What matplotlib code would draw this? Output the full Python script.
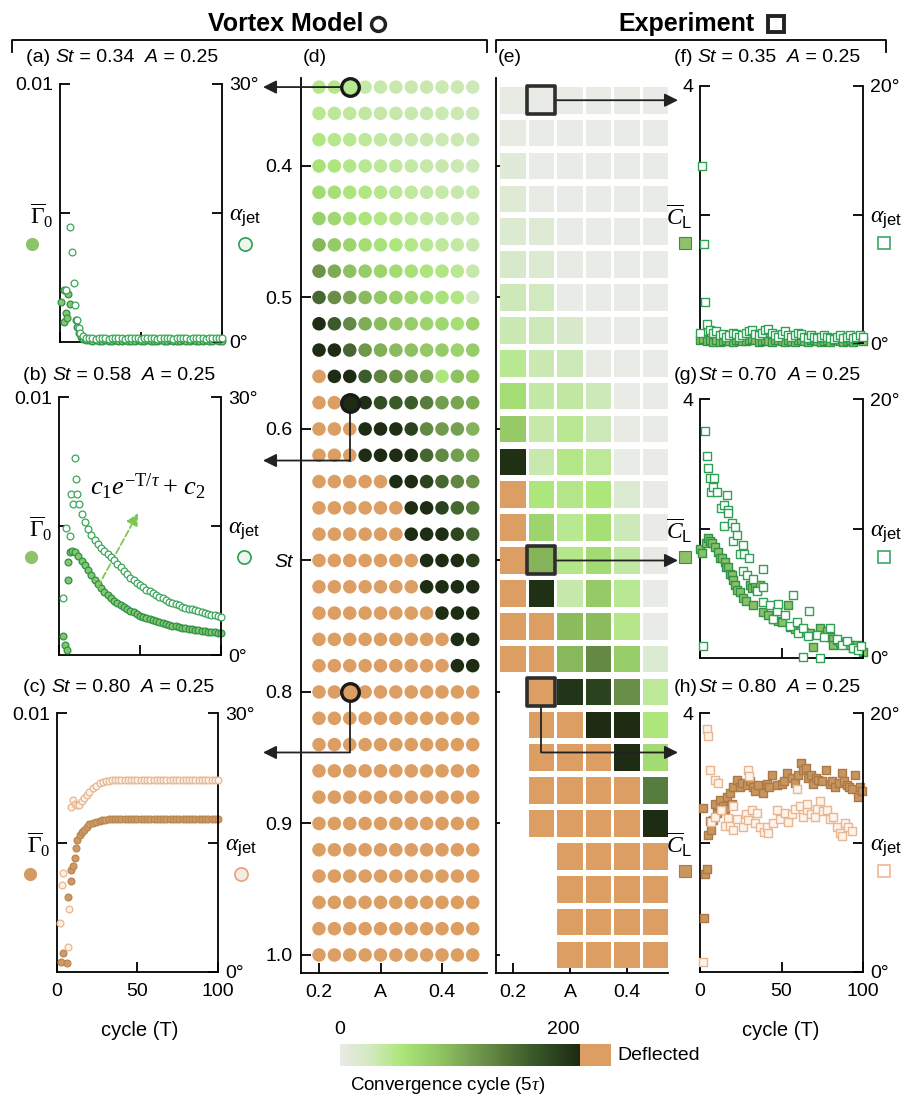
import numpy as np
import matplotlib
matplotlib.use('Agg')
from matplotlib import pyplot as plt
from matplotlib.colors import LinearSegmentedColormap, Normalize
from matplotlib.patches import Rectangle
from matplotlib.lines import Line2D
from matplotlib.cm import ScalarMappable

plt.rcParams['font.family'] = ['Liberation Sans', 'DejaVu Sans']
plt.rcParams['mathtext.fontset'] = 'custom'
plt.rcParams['mathtext.rm'] = 'Liberation Serif'
plt.rcParams['mathtext.it'] = 'Liberation Serif:italic'
plt.rcParams['mathtext.bf'] = 'Liberation Serif:bold'
plt.rcParams['mathtext.sf'] = 'Liberation Sans'
plt.rcParams['font.size'] = 14

D = -1      # deflected
N = np.nan  # no measurement

#Mapa del modelo de vortices (d)
st_model = [0.34, 0.36, 0.38, 0.40, 0.42, 0.44, 0.46, 0.48, 0.50, 0.52, 0.54, 0.56,
            0.58, 0.60, 0.62, 0.64, 0.66, 0.68, 0.70, 0.72, 0.74, 0.76, 0.78, 0.80,
            0.82, 0.84, 0.86, 0.88, 0.90, 0.92, 0.94, 0.96, 0.98, 1.00]
a_model = [0.200, 0.225, 0.250, 0.275, 0.300, 0.325, 0.350, 0.375, 0.400, 0.425, 0.450]
conv_model = [
    [45, 45, 43, 33, 33, 32, 31, 31, 30, 30, 28],
    [42, 40, 38, 36, 34, 33, 32, 31, 30, 29, 28],
    [48, 44, 42, 40, 36, 34, 32, 31, 30, 29, 28],
    [55, 50, 46, 42, 40, 37, 35, 33, 31, 30, 28],
    [62, 58, 52, 48, 44, 40, 37, 35, 33, 31, 29],
    [72, 65, 58, 52, 48, 44, 40, 37, 35, 32, 30],
    [92, 78, 68, 60, 55, 50, 46, 42, 38, 35, 31],
    [118, 100, 85, 75, 68, 62, 57, 52, 48, 42, 33],
    [150, 122, 105, 90, 80, 72, 66, 60, 55, 48, 25],
    [198, 160, 125, 100, 88, 80, 75, 70, 66, 58, 70],
    [198, 198, 150, 115, 98, 90, 85, 80, 76, 70, 75],
    [D, 198, 198, 158, 130, 118, 110, 100, 50, 85, 80],
    [D, D, 198, 196, 170, 160, 158, 135, 110, 105, 100],
    [D, D, D, 198, 198, 196, 180, 125, 112, 108, 95],
    [D, D, D, 198, 198, 198, 196, 150, 125, 110, 102],
    [D, D, D, D, D, 198, 198, 180, 150, 128, 118],
    [D, D, D, D, D, D, 198, 198, 180, 150, 135],
    [D, D, D, D, D, D, 198, 198, 198, 178, 150],
    [D, D, D, D, D, D, D, 198, 198, 198, 182],
    [D, D, D, D, D, D, D, 198, 198, 198, 198],
    [D, D, D, D, D, D, D, D, 198, 198, 198],
    [D, D, D, D, D, D, D, D, D, 198, 198],
    [D, D, D, D, D, D, D, D, D, 198, 198],
    [D, D, D, D, D, D, D, D, D, D, D],
    [D, D, D, D, D, D, D, D, D, D, D],
    [D, D, D, D, D, D, D, D, D, D, D],
    [D, D, D, D, D, D, D, D, D, D, D],
    [D, D, D, D, D, D, D, D, D, D, D],
    [D, D, D, D, D, D, D, D, D, D, D],
    [D, D, D, D, D, D, D, D, D, D, D],
    [D, D, D, D, D, D, D, D, D, D, D],
    [D, D, D, D, D, D, D, D, D, D, D],
    [D, D, D, D, D, D, D, D, D, D, D],
    [D, D, D, D, D, D, D, D, D, D, D],
]

#Mapa del experimento (e)
st_exp = [0.350, 0.375, 0.400, 0.425, 0.450, 0.475, 0.500, 0.525, 0.550, 0.575,
          0.600, 0.625, 0.650, 0.675, 0.700, 0.725, 0.750, 0.775, 0.800, 0.825,
          0.850, 0.875, 0.900, 0.925, 0.950, 0.975, 1.000]
a_exp = [0.20, 0.25, 0.30, 0.35, 0.40, 0.45]
conv_exp = [
    [2, 0, 0, 0, 0, 0],
    [3, 0, 0, 0, 0, 0],
    [10, 0, 0, 0, 0, 0],
    [12, 2, 0, 0, 0, 0],
    [15, 12, 0, 0, 0, 0],
    [18, 15, 2, 0, 0, 0],
    [28, 25, 0, 0, 0, 0],
    [30, 28, 18, 0, 0, 0],
    [42, 30, 28, 2, 0, 0],
    [60, 35, 36, 28, 0, 0],
    [78, 33, 42, 28, 2, 0],
    [195, 32, 46, 40, 0, 0],
    [D, 50, 45, 50, 15, 0],
    [D, 68, 42, 58, 28, 0],
    [D, 95, 45, 62, 36, 2],
    [D, 195, 33, 78, 42, 0],
    [D, D, 88, 88, 45, 0],
    [D, D, 92, 125, 75, 15],
    [N, D, 190, 180, 122, 40],
    [N, D, D, 198, 198, 50],
    [N, D, D, D, 198, 62],
    [N, D, D, D, D, 135],
    [N, D, D, D, D, 198],
    [N, N, D, D, D, D],
    [N, N, D, D, D, D],
    [N, N, D, D, D, D],
    [N, N, D, D, D, D],
]

#Casos resaltados (A = 0.25)
hl_a = 0.25
hl_model_st = [0.34, 0.58, 0.80]
hl_exp_st = [0.35, 0.70, 0.80]

#(a) St = 0.34, Gamma en unidades de 1e-3, alpha en grados
a_gam_pts = [(0.6, 1.55), (2.5, 2.0), (5.0, 1.86), (6.2, 1.47), (3.7, 1.12), (2.5, 0.78),
             (4.3, 0.93), (9.9, 0.85), (10.6, 0.58), (11.8, 0.35), (13.0, 0.2), (14.5, 0.12)]
a_alp_pts = [(3.7, 6.0), (6.2, 13.4), (7.5, 10.5), (8.7, 6.9), (9.3, 4.3), (10.5, 2.6),
             (11.5, 1.6), (12.5, 1.1), (14.0, 0.7)]
a_tail_cyc = list(range(16, 101, 2))
a_gam_tail = [0.08, 0.06, 0.05, 0.06, 0.05, 0.05, 0.06, 0.05, 0.05, 0.06,
              0.05, 0.05, 0.06, 0.05, 0.05, 0.05, 0.06, 0.05, 0.05, 0.06,
              0.05, 0.05, 0.05, 0.06, 0.05, 0.05, 0.06, 0.05, 0.05, 0.05,
              0.06, 0.05, 0.05, 0.06, 0.05, 0.05, 0.05, 0.06, 0.05, 0.05,
              0.06, 0.05, 0.05]
a_alp_tail = [0.5, 0.45, 0.45, 0.4, 0.45, 0.5, 0.45, 0.4, 0.45, 0.45,
              0.5, 0.45, 0.4, 0.45, 0.45, 0.5, 0.45, 0.4, 0.45, 0.45,
              0.5, 0.45, 0.4, 0.45, 0.45, 0.5, 0.45, 0.4, 0.45, 0.45,
              0.5, 0.45, 0.4, 0.45, 0.45, 0.5, 0.45, 0.4, 0.45, 0.45,
              0.5, 0.45, 0.45]

#(b) St = 0.58
b_gam_pts = [(2.7, 0.75), (3.7, 0.39), (4.7, 0.19), (5.8, 3.6), (5.8, 2.9), (7.0, 4.0)]
b_gam_cyc = list(range(8, 101, 2))
b_gam_val = [4.05, 4.0, 3.85, 3.65, 3.48, 3.3, 3.1, 2.92, 2.75, 2.6,
             2.46, 2.34, 2.22, 2.1, 2.0, 1.92, 1.85, 1.78, 1.71, 1.65,
             1.59, 1.53, 1.47, 1.43, 1.39, 1.35, 1.31, 1.27, 1.24, 1.2,
             1.17, 1.14, 1.11, 1.08, 1.06, 1.04, 1.02, 1.0, 0.98, 0.96,
             0.94, 0.92, 0.91, 0.89, 0.88, 0.86, 0.85]
b_alp_pts = [(2.7, 6.6), (4.3, 14.8), (6.8, 13.8), (7.2, 18.7), (8.4, 17.6), (9.7, 22.9),
             (10.5, 20.5), (11.3, 18.7), (12.1, 17.6)]
b_alp_cyc = list(range(14, 101, 2))
b_alp_val = [16.4, 15.5, 14.7, 14.0, 13.4, 12.9, 12.4, 12.1, 11.8, 11.4,
             11.0, 10.6, 10.2, 9.8, 9.4, 9.0, 8.7, 8.4, 8.1, 7.9,
             7.6, 7.4, 7.2, 7.0, 6.8, 6.6, 6.4, 6.2, 6.0, 5.9,
             5.8, 5.6, 5.5, 5.4, 5.3, 5.2, 5.1, 5.0, 4.9, 4.8,
             4.7, 4.6, 4.5, 4.4]

#(c) St = 0.80
c_gam_pts = [(2.3, 0.4), (3.9, 0.73), (6.0, 0.34), (7.0, 2.9), (8.7, 3.5), (8.7, 3.94),
             (10.0, 4.1), (11.2, 4.4), (11.8, 4.8), (12.4, 5.1), (14.0, 5.3), (15.5, 5.4),
             (17.0, 5.5), (18.6, 5.6), (20.0, 5.7), (22.4, 5.75), (24.0, 5.8), (26.7, 5.83),
             (28.0, 5.85), (30.0, 5.88), (32.0, 5.9)]
c_alp_pts = [(1.9, 5.7), (2.9, 10.1), (3.9, 11.5), (7.0, 2.9), (7.5, 7.3), (8.7, 19.1),
             (10.1, 19.9), (11.0, 19.5), (12.2, 19.3), (13.5, 19.4), (15.3, 19.8), (16.8, 20.2),
             (18.4, 20.5), (20.0, 20.9), (22.5, 21.3), (24.5, 21.6), (26.7, 21.9), (28.5, 22.0),
             (30.5, 22.1), (32.5, 22.15)]
c_tail_cyc = list(range(34, 101, 2))
c_gam_tail = [5.9, 5.9, 5.9, 5.9, 5.9, 5.9, 5.9, 5.9, 5.9, 5.9,
              5.9, 5.9, 5.9, 5.9, 5.9, 5.9, 5.9, 5.9, 5.9, 5.9,
              5.9, 5.9, 5.9, 5.9, 5.9, 5.9, 5.9, 5.9, 5.9, 5.9,
              5.9, 5.9, 5.9, 5.9]
c_alp_tail = [22.2, 22.2, 22.2, 22.2, 22.2, 22.2, 22.2, 22.2, 22.2, 22.2,
              22.2, 22.2, 22.2, 22.2, 22.2, 22.2, 22.2, 22.2, 22.2, 22.2,
              22.2, 22.2, 22.2, 22.2, 22.2, 22.2, 22.2, 22.2, 22.2, 22.2,
              22.2, 22.2, 22.2, 22.2]

#(f) St = 0.35 experimento
f_cl_cyc = list(range(0, 101, 2))
f_cl_val = [0.04, 0.06, 0.03, 0.05, 0.02, 0.04, 0.02, 0.03, 0.05, 0.03,
            0.02, 0.04, 0.05, 0.03, 0.03, 0.04, 0.06, 0.04, 0.02, 0.03,
            0.05, 0.03, 0.02, 0.04, 0.05, 0.03, 0.02, 0.04, 0.03, 0.02,
            0.04, 0.05, 0.03, 0.02, 0.04, 0.05, 0.03, 0.02, 0.03, 0.04,
            0.02, 0.04, 0.05, 0.03, 0.02, 0.03, 0.04, 0.02, 0.04, 0.05,
            0.03]
f_alp_pts = [(0.0, 0.8), (1.2, 13.8), (2.5, 7.7), (3.0, 3.2), (4.3, 1.5)]
f_alp_cyc = list(range(6, 101, 2))
f_alp_val = [1.0, 0.8, 0.9, 0.6, 0.7, 0.5, 0.6, 0.8, 0.7, 0.5,
             0.6, 0.8, 0.9, 1.0, 0.7, 0.6, 0.8, 1.0, 1.1, 0.8,
             0.6, 0.5, 0.7, 0.9, 0.6, 0.5, 0.6, 0.8, 0.7, 0.5,
             0.4, 0.6, 0.5, 0.4, 0.5, 0.6, 0.5, 0.4, 0.3, 0.5,
             0.6, 0.4, 0.5, 0.6, 0.4, 0.5, 0.6, 0.5]

#(g) St = 0.70 experimento
g_cl_pts = [(0.0, 1.69), (1.5, 1.62), (3.7, 1.77), (5.0, 1.85), (6.1, 1.8), (7.5, 1.78),
            (9.2, 1.72), (11.2, 1.64), (12.0, 1.55), (13.3, 1.54), (15.3, 1.49), (16.0, 1.4),
            (17.4, 1.41), (18.5, 1.3), (19.4, 1.28), (20.5, 1.2), (21.5, 1.12), (23.0, 1.05),
            (24.5, 1.02), (26.6, 0.92), (28.0, 0.88), (30.7, 1.12), (32.0, 1.08), (33.7, 1.1),
            (35.0, 1.05), (36.8, 1.12), (32.7, 0.82), (38.9, 0.71), (42.0, 0.66), (45.0, 0.61),
            (48.0, 0.57), (50.1, 0.55), (54.2, 0.82), (55.2, 0.48), (58.0, 0.45), (61.3, 0.41),
            (64.0, 0.4), (67.5, 0.38), (69.5, 0.17), (73.6, 0.46), (75.0, 0.35), (77.7, 0.41),
            (80.0, 0.33), (81.8, 0.3), (81.8, 0.2), (84.0, 0.28), (85.9, 0.25), (88.0, 0.22),
            (90.0, 0.24), (92.0, 0.2), (94.0, 0.15), (96.1, 0.2), (98.2, 0.15), (100.0, 0.1)]
g_alp_pts = [(2.0, 0.9), (3.3, 17.5), (4.1, 15.6), (5.1, 14.7), (6.1, 13.9), (6.7, 12.8),
             (8.2, 13.2), (8.6, 13.9), (10.6, 12.8), (12.7, 11.6), (14.7, 11.8), (14.9, 10.2),
             (16.4, 12.6), (17.4, 11.4), (17.4, 11.2), (19.4, 10.4), (20.0, 9.0), (21.5, 10.1),
             (22.9, 9.5), (24.5, 8.0), (26.2, 6.7), (26.6, 8.7), (27.0, 8.0), (29.0, 6.4),
             (30.0, 7.7), (32.7, 6.1), (35.0, 5.2), (38.5, 5.5), (38.5, 4.3), (38.9, 6.9),
             (43.0, 4.1), (45.0, 3.0), (47.1, 3.6), (48.1, 4.2), (52.1, 3.3), (55.0, 2.5),
             (56.9, 4.9), (59.3, 2.8), (60.0, 1.9), (63.4, 2.3), (63.4, 0.1), (66.0, 1.7),
             (67.1, 3.6), (71.6, 1.8), (73.6, 0.0), (76.0, 1.6), (79.8, 2.3), (84.0, 1.5),
             (87.0, 1.0), (90.0, 1.3), (94.1, 0.75), (97.0, 0.6), (99.0, 0.9)]

#(h) St = 0.80 experimento
h_cl_pts = [(1.6, 2.53), (2.5, 0.83), (3.1, 1.51), (4.1, 1.59), (5.1, 2.12), (6.1, 2.33),
            (6.7, 2.2), (8.2, 2.35), (9.2, 2.6), (10.2, 2.45), (12.3, 2.66), (12.3, 2.5),
            (14.3, 2.56), (15.3, 2.52), (16.4, 2.71), (18.4, 2.76), (19.4, 2.6), (20.4, 2.86),
            (22.5, 2.97), (24.5, 2.86), (26.0, 2.92), (28.6, 2.89), (30.5, 2.95), (32.7, 2.86),
            (34.0, 2.8), (35.8, 2.89), (38.9, 2.76), (40.9, 2.9), (42.5, 2.85), (44.0, 3.04),
            (47.1, 2.89), (50.1, 2.9), (51.5, 2.95), (53.2, 3.08), (56.2, 2.99), (58.0, 2.92),
            (60.3, 3.04), (61.9, 3.23), (63.4, 3.12), (65.0, 3.15), (66.5, 3.0), (68.0, 3.05),
            (69.5, 2.9), (71.0, 3.0), (72.6, 2.97), (75.0, 2.95), (77.3, 3.12), (79.8, 2.9),
            (81.0, 2.95), (82.8, 2.86), (85.0, 2.92), (86.9, 3.07), (88.5, 2.95), (89.9, 2.89),
            (91.5, 2.85), (93.0, 2.82), (95.1, 3.04), (97.1, 2.71), (98.0, 2.85), (99.2, 2.8)]
h_alp_pts = [(2.0, 0.8), (4.1, 18.8), (5.1, 18.2), (6.1, 15.6), (6.7, 11.6), (9.2, 14.8),
             (9.2, 12.0), (11.2, 14.6), (13.0, 12.5), (15.3, 11.3), (17.4, 11.9), (18.4, 11.3),
             (20.4, 12.8), (20.4, 11.0), (23.0, 11.8), (26.6, 11.2), (28.0, 12.2), (29.7, 11.7),
             (29.7, 15.6), (30.3, 15.1), (32.0, 12.5), (33.7, 11.5), (34.8, 12.3), (37.0, 11.2),
             (39.0, 10.8), (40.9, 11.2), (42.0, 10.7), (45.0, 11.5), (47.1, 12.5), (49.0, 11.8),
             (52.1, 12.3), (54.0, 11.6), (56.2, 12.2), (58.0, 12.6), (59.3, 14.1), (61.3, 12.8),
             (63.0, 12.0), (65.4, 12.5), (65.4, 13.0), (68.0, 12.2), (70.5, 12.0), (72.0, 12.6),
             (73.6, 13.2), (75.5, 12.4), (77.7, 12.5), (79.5, 11.8), (81.8, 12.0), (84.0, 11.2),
             (85.9, 10.7), (86.9, 10.5), (89.0, 11.5), (91.0, 11.2), (93.0, 10.9)]


ORANGE = '#dc9e63'
cmap = LinearSegmentedColormap.from_list('conv', [(0, '#e9ebe6'), (0.12, '#d3e9c2'), (0.25, '#ade77c'),
                                                  (0.4, '#93c865'), (0.6, '#6a9048'), (0.8, '#3b5a2a'),
                                                  (1.0, '#1c2a12')])
cmap.set_under(ORANGE)
norm = Normalize(0, 200)

GREEN = dict(fill='#86c46e', edge='#2c9346', oedge='#3aa65a', oface='white',
             lfill='#8dc46a', ledge='#2aa050', lface='#eef6ee')
ORNG = dict(fill='#cf9a63', edge='#b98552', oedge='#e8b690', oface='#fbf1e8',
            lfill='#d49a62', ledge='#e8a070', lface='#f2ece6')

W, H = 903, 1096
fig = plt.figure(figsize=(W / 100, H / 100), dpi=100)


def rect(x0, y0, x1, y1):
    return [x0 / W, 1 - y1 / H, (x1 - x0) / W, (y1 - y0) / H]


def label(x, y, parts, size=14):
    t = fig.text(x / W, 1 - y / H, parts[0][0], style=parts[0][1], size=size, va='center')
    for s, sty in parts[1:]:
        t = ax_any.annotate(s, xy=(1, 0), xycoords=t, va='bottom', style=sty, size=size,
                            annotation_clip=False)


GAM = r'$\overline{\Gamma}_0$'
CL = r'$\overline{C}_{\mathsf{L}}$'
AJ = r'$\alpha_{\mathsf{jet}}$'


def ts_axes(box, lmax, ltop, llab, rmax, show_x):
    ax = fig.add_axes(rect(*box))
    ax2 = ax.twinx()
    ax.set_xlim(0, 100)
    ax.set_ylim(0, lmax)
    ax2.set_ylim(0, rmax)
    for s in ['top', 'right']:
        ax.spines[s].set_visible(False)
    for s in ['top', 'left', 'bottom']:
        ax2.spines[s].set_visible(False)
    for a in (ax, ax2):
        for s in a.spines.values():
            s.set_linewidth(1.3)
        a.tick_params(direction='in', length=7, width=1.3, labelsize=14, pad=5)
    ax.set_xticks([0, 50, 100])
    ax.tick_params(axis='x', labelbottom=show_x, pad=8)
    ax.set_yticks([lmax / 2, lmax])
    ax.set_yticklabels([llab, ltop])
    ax2.set_yticks([0, rmax / 2, rmax])
    ax2.set_yticklabels(['0°', AJ, '%d°' % rmax])
    ax.get_yticklabels()[0].set_fontsize(17)
    ax2.get_yticklabels()[1].set_fontsize(17)
    return ax, ax2


def pts(p):
    p = np.array(p, dtype=float)
    return p[:, 0], p[:, 1]


def model_series(ax, ax2, gx, gy, ax_, ay, col):
    ax.scatter(gx, gy, s=24, facecolors=col['fill'], edgecolors=col['edge'], linewidths=0.9,
               clip_on=False, zorder=3)
    ax2.scatter(ax_, ay, s=24, facecolors=col['oface'], edgecolors=col['oedge'], linewidths=0.9,
                clip_on=False, zorder=3)
    ax.plot([-0.17], [0.38], transform=ax.transAxes, marker='o', ms=9.5, mfc=col['lfill'],
            mec='none', clip_on=False)
    ax2.plot([1.14], [0.38], transform=ax2.transAxes, marker='o', ms=9.5, mfc=col['lface'],
             mec=col['ledge'], mew=1.2, clip_on=False)


def exp_series(ax, ax2, cx, cy, ax_, ay, col):
    ax.scatter(cx, cy, s=32, marker='s', facecolors=col['fill'], edgecolors=col['edge'],
               linewidths=1.0, clip_on=False, zorder=3)
    ax2.scatter(ax_, ay, s=32, marker='s', facecolors=col['oface'], edgecolors=col['oedge'],
                linewidths=1.0, clip_on=False, zorder=3)
    ax.plot([-0.09], [0.39], transform=ax.transAxes, marker='s', ms=9, mfc=col['lfill'],
            mec=col['edge'], mew=0.8, clip_on=False)
    ax2.plot([1.13], [0.39], transform=ax2.transAxes, marker='s', ms=9, mfc=col['lface'],
             mec=col['ledge'], mew=1.2, clip_on=False)


#Panel (d)
ax_d = fig.add_axes(rect(301, 78, 487, 973))
ax_any = ax_d
cm_arr = np.array(conv_model, dtype=float)
A_g, S_g = np.meshgrid(a_model, st_model)
ax_d.scatter(A_g.ravel(), S_g.ravel(), c=cm_arr.ravel(), cmap=cmap, norm=norm, s=95,
             linewidths=0, zorder=2, clip_on=False)
ax_d.set_xlim(0.1707, 0.4732)
ax_d.set_ylim(1.0137, 0.3331)
for s in ['top', 'right']:
    ax_d.spines[s].set_visible(False)
for s in ['left', 'bottom']:
    ax_d.spines[s].set_linewidth(1.3)
ax_d.set_xticks([0.2, 0.3, 0.4])
ax_d.set_xticklabels(['0.2', 'A', '0.4'])
ax_d.set_yticks([0.4, 0.5, 0.6, 0.7, 0.8, 0.9, 1.0])
ax_d.set_yticklabels(['0.4', '0.5', '0.6', 'St', '0.8', '0.9', '1.0'])
ax_d.get_yticklabels()[3].set_style('italic')
ax_d.tick_params(direction='in', length=7, width=1.3, labelsize=14)
ax_d.tick_params(axis='x', pad=8)
ax_d.tick_params(axis='y', pad=6)

#Panel (e)
ax_e = fig.add_axes(rect(496, 78, 668, 973))
ce_arr = np.array(conv_exp, dtype=float)
cw, ch = 0.044, 0.0203
for i, st in enumerate(st_exp):
    for j, a in enumerate(a_exp):
        v = ce_arr[i, j]
        if np.isnan(v):
            continue
        ax_e.add_patch(Rectangle((a - cw / 2, st - ch / 2), cw, ch, facecolor=cmap(norm(v)),
                                 edgecolor='none', zorder=2))
ax_e.set_xlim(0.1702, 0.4719)
ax_e.set_ylim(1.0137, 0.3331)
for s in ['top', 'right']:
    ax_e.spines[s].set_visible(False)
for s in ['left', 'bottom']:
    ax_e.spines[s].set_linewidth(1.3)
ax_e.set_xticks([0.2, 0.3, 0.4])
ax_e.set_xticklabels(['0.2', 'A', '0.4'])
ax_e.set_yticks([0.4, 0.5, 0.6, 0.7, 0.8, 0.9, 1.0])
ax_e.tick_params(direction='in', width=1.3, labelsize=14)
ax_e.tick_params(axis='x', length=7, pad=8)
ax_e.tick_params(axis='y', length=3, labelleft=False)

#Flechas y marcadores resaltados
TIP_L, TIP_R = 263 / W, 678 / W
drops_model = [None, 0.624, 0.846]
drops_exp = [None, None, 0.846]
arrow = dict(arrowstyle='-|>', color='#222222', lw=1.3, mutation_scale=20, shrinkA=0, shrinkB=0)
for st, dr in zip(hl_model_st, drops_model):
    v = cm_arr[st_model.index(st), a_model.index(hl_a)]
    lvl = st if dr is None else dr
    if dr is not None:
        ax_d.plot([hl_a, hl_a], [st, dr], color='#222222', lw=1.3, zorder=4, clip_on=False)
    ax_d.annotate('', xy=(TIP_L, lvl), xycoords=('figure fraction', 'data'), xytext=(hl_a, lvl),
                  textcoords='data', arrowprops=arrow, annotation_clip=False, zorder=4)
    ax_d.scatter([hl_a], [st], c=[v], cmap=cmap, norm=norm, s=160, edgecolors='#1a1a1a',
                 linewidths=2.4, zorder=5, clip_on=False)
for st, dr in zip(hl_exp_st, drops_exp):
    v = ce_arr[st_exp.index(st), a_exp.index(hl_a)]
    lvl = st if dr is None else dr
    if dr is not None:
        ax_e.plot([hl_a, hl_a], [st, dr], color='#222222', lw=1.3, zorder=4, clip_on=False)
    ax_e.annotate('', xy=(TIP_R, lvl), xycoords=('figure fraction', 'data'), xytext=(hl_a, lvl),
                  textcoords='data', arrowprops=arrow, annotation_clip=False, zorder=4)
    ax_e.scatter([hl_a], [st], c=[v], cmap=cmap, norm=norm, s=390, marker='s',
                 edgecolors='#2e2e2e', linewidths=2.6, zorder=5, clip_on=False)

#Paneles (a), (b), (c)
ax_a, ax_a2 = ts_axes((60, 84, 222, 342), 10, '0.01', GAM, 30, False)
gx, gy = pts(a_gam_pts)
ax_x, ay = pts(a_alp_pts)
model_series(ax_a, ax_a2, np.r_[gx, a_tail_cyc], np.r_[gy, a_gam_tail],
             np.r_[ax_x, a_tail_cyc], np.r_[ay, a_alp_tail], GREEN)

ax_b, ax_b2 = ts_axes((59, 397, 221, 655), 10, '0.01', GAM, 30, False)
gx, gy = pts(b_gam_pts)
ax_x, ay = pts(b_alp_pts)
model_series(ax_b, ax_b2, np.r_[gx, b_gam_cyc], np.r_[gy, b_gam_val],
             np.r_[ax_x, b_alp_cyc], np.r_[ay, b_alp_val], GREEN)
ax_b.annotate('', xy=(48.8, 5.5), xytext=(24, 2.64),
              arrowprops=dict(arrowstyle='-|>', color='#7cc850', lw=1.3, ls='--',
                              mutation_scale=18, shrinkA=0, shrinkB=0), zorder=4)
ax_b.text(19, 6.5, r'$c_1e^{-\mathrm{T}/\tau}+\,c_2$', size=19, va='center')

ax_c, ax_c2 = ts_axes((57, 713, 218, 972), 10, '0.01', GAM, 30, True)
gx, gy = pts(c_gam_pts)
ax_x, ay = pts(c_alp_pts)
model_series(ax_c, ax_c2, np.r_[gx, c_tail_cyc], np.r_[gy, c_gam_tail],
             np.r_[ax_x, c_tail_cyc], np.r_[ay, c_alp_tail], ORNG)

#Paneles (f), (g), (h)
GREEN_X = dict(fill='#8dbf68', edge='#2f9447', oedge='#2fa055', oface='white',
               lfill='#8fc06a', ledge='#3aa860', lface='white')
ORNG_X = dict(fill='#c9955e', edge='#a97a48', oedge='#eab68f', oface='#fdf4ee',
              lfill='#c8965f', ledge='#f0b890', lface='white')

ax_f, ax_f2 = ts_axes((700, 86, 863, 343), 4, '4', CL, 20, False)
ax_x, ay = pts(f_alp_pts)
exp_series(ax_f, ax_f2, f_cl_cyc, f_cl_val, np.r_[ax_x, f_alp_cyc], np.r_[ay, f_alp_val], GREEN_X)

ax_g, ax_g2 = ts_axes((700, 399, 863, 658), 4, '4', CL, 20, False)
cx, cy = pts(g_cl_pts)
ax_x, ay = pts(g_alp_pts)
exp_series(ax_g, ax_g2, cx, cy, ax_x, ay, GREEN_X)

ax_h, ax_h2 = ts_axes((700, 713, 863, 972), 4, '4', CL, 20, True)
cx, cy = pts(h_cl_pts)
ax_x, ay = pts(h_alp_pts)
exp_series(ax_h, ax_h2, cx, cy, ax_x, ay, ORNG_X)

fig.text(140 / W, 1 - 1030 / H, 'cycle (T)', ha='center', va='center', size=14.5)
fig.text(781 / W, 1 - 1030 / H, 'cycle (T)', ha='center', va='center', size=14.5)

#Titulos de paneles
label(26, 58, [('(a) ', 'normal'), ('St', 'italic'), (' = 0.34  ', 'normal'), ('A', 'italic'), (' = 0.25', 'normal')])
label(23, 375, [('(b) ', 'normal'), ('St', 'italic'), (' = 0.58  ', 'normal'), ('A', 'italic'), (' = 0.25', 'normal')])
label(23, 687, [('(c) ', 'normal'), ('St', 'italic'), (' = 0.80  ', 'normal'), ('A', 'italic'), (' = 0.25', 'normal')])
label(674, 58, [('(f) ', 'normal'), ('St', 'italic'), (' = 0.35  ', 'normal'), ('A', 'italic'), (' = 0.25', 'normal')])
label(674, 376, [('(g)', 'normal'), ('St', 'italic'), (' = 0.70  ', 'normal'), ('A', 'italic'), (' = 0.25', 'normal')])
label(674, 688, [('(h)', 'normal'), ('St', 'italic'), (' = 0.80  ', 'normal'), ('A', 'italic'), (' = 0.25', 'normal')])
fig.text(303 / W, 1 - 58 / H, '(d)', va='center', size=14)
fig.text(498 / W, 1 - 58 / H, '(e)', va='center', size=14)

#Encabezados
fig.text(363 / W, 1 - 24 / H, 'Vortex Model', ha='right', va='center', weight='bold', size=18)
fig.text(755 / W, 1 - 24 / H, 'Experiment', ha='right', va='center', weight='bold', size=18)
fig.add_artist(Line2D([378 / W], [1 - 24 / H], marker='o', ms=10, mfc='none', mec='#222222', mew=2.5))
fig.add_artist(Line2D([776 / W], [1 - 24 / H], marker='s', ms=12, mfc='none', mec='#222222', mew=2.8))
for x0, x1 in [(12, 487), (496, 886)]:
    fig.add_artist(Line2D([x0 / W, x0 / W, x1 / W, x1 / W],
                          [1 - 52 / H, 1 - 40 / H, 1 - 40 / H, 1 - 52 / H], color='black', lw=1.3))

#Barra de color
cax = fig.add_axes(rect(340, 1044, 580, 1066))
cb = fig.colorbar(ScalarMappable(norm=norm, cmap=cmap), cax=cax, orientation='horizontal')
cb.outline.set_visible(False)
cax.set_xticks([])
fig.add_artist(Rectangle((580 / W, 1 - 1066 / H), 31 / W, 22 / H, transform=fig.transFigure,
                         facecolor=ORANGE, edgecolor='none'))
fig.text(340 / W, 1 - 1030 / H, '0', ha='center', va='center', size=14)
fig.text(580 / W, 1 - 1030 / H, '200', ha='right', va='center', size=14)
fig.text(617 / W, 1 - 1055 / H, 'Deflected', ha='left', va='center', size=14)
fig.text(350 / W, 1 - 1085 / H, r'Convergence cycle (5$\tau$)', ha='left', va='center', size=13.5)

fig.savefig('out.png', dpi=100)
